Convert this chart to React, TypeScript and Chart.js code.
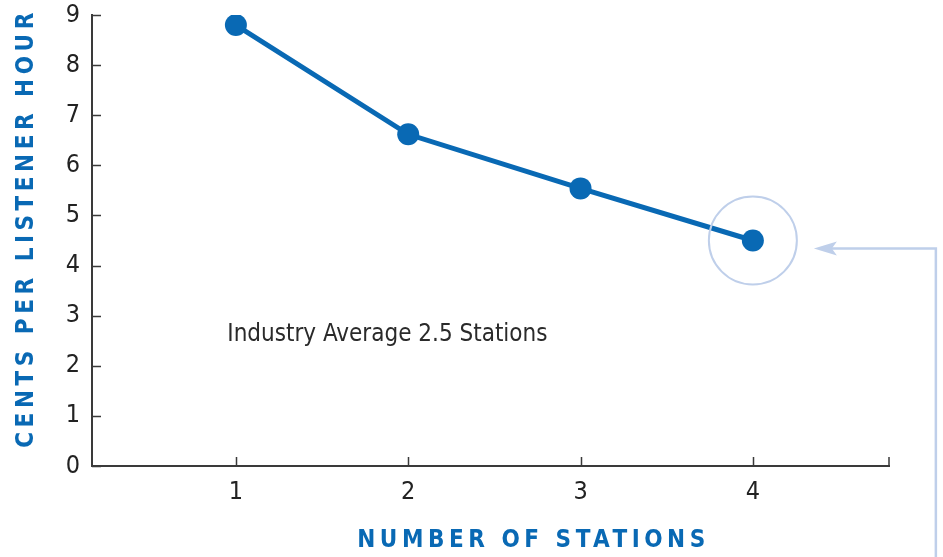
import React, { useEffect, useRef } from "react";
import { Chart, registerables } from "chart.js";

Chart.register(...registerables);

const stations = [1, 2, 3, 4];
const centsPerHour = [8.8, 6.62, 5.54, 4.5];
const yTickValues = [0, 1, 2, 3, 4, 5, 6, 7, 8, 9];
const xTickValues = [1, 2, 3, 4];
const xTitle = "NUMBER OF STATIONS";
const yTitle = "CENTS PER LISTENER HOUR";
const noteText = "Industry Average 2.5 Stations";
const noteAt = { x: 0.95, y: 2.62 };
const highlightIndex = 3;

const FONT = "'Liberation Sans Narrow', 'DejaVu Sans Condensed', 'Roboto Condensed', Roboto, sans-serif";
const BLUE = "#0969b4";
const AXIS = "#3a3a3a";
const PALE = "#bfcfea";

function spacedText(ctx: any, text: string, x: number, y: number, width: number) {
  ctx.letterSpacing = "0px";
  const w = ctx.measureText(text).width;
  const sp = (width - w) / (text.length - 1);
  ctx.letterSpacing = `${sp}px`;
  ctx.fillText(text, x + sp / 2, y);
  ctx.letterSpacing = "0px";
}

const decorPlugin = {
  id: "decor",
  afterDraw(chart: any) {
    const { ctx, chartArea, scales } = chart;
    const xs = scales.x;
    const ys = scales.y;
    ctx.save();
    // inward ticks
    ctx.strokeStyle = AXIS;
    ctx.lineWidth = 1.5;
    ctx.beginPath();
    yTickValues.forEach((v) => {
      const py = Math.round(ys.getPixelForValue(v)) + 0.5;
      ctx.moveTo(chartArea.left, py);
      ctx.lineTo(chartArea.left + 9, py);
    });
    xTickValues.forEach((v) => {
      const px = Math.round(xs.getPixelForValue(v)) + 0.5;
      ctx.moveTo(px, chartArea.bottom);
      ctx.lineTo(px, chartArea.bottom - 9);
    });
    ctx.moveTo(chartArea.right, chartArea.bottom);
    ctx.lineTo(chartArea.right, chartArea.bottom - 9);
    ctx.stroke();

    // note
    ctx.fillStyle = "#2a2a2a";
    ctx.font = `24px ${FONT}`;
    ctx.textAlign = "left";
    ctx.textBaseline = "middle";
    ctx.fillText(noteText, xs.getPixelForValue(noteAt.x), ys.getPixelForValue(noteAt.y));

    // highlight circle
    const cx = xs.getPixelForValue(stations[highlightIndex]);
    const cy = ys.getPixelForValue(centsPerHour[highlightIndex]);
    ctx.strokeStyle = PALE;
    ctx.lineWidth = 2;
    ctx.beginPath();
    ctx.arc(cx, cy, 44, 0, Math.PI * 2);
    ctx.stroke();

    // arrow
    const tipX = cx + 61;
    const ay = cy + 8;
    const vx = cx + 183;
    ctx.lineWidth = 2.5;
    ctx.beginPath();
    ctx.moveTo(vx, chart.height + 5);
    ctx.lineTo(vx, ay);
    ctx.lineTo(tipX + 14, ay);
    ctx.stroke();
    ctx.fillStyle = PALE;
    ctx.beginPath();
    ctx.moveTo(tipX, ay);
    ctx.lineTo(tipX + 23, ay - 7);
    ctx.lineTo(tipX + 18, ay);
    ctx.lineTo(tipX + 23, ay + 7);
    ctx.closePath();
    ctx.fill();

    // titles
    ctx.fillStyle = BLUE;
    ctx.font = `bold 24px ${FONT}`;
    ctx.textAlign = "left";
    ctx.textBaseline = "middle";
    spacedText(ctx, xTitle, 355, 541, 348);
    ctx.translate(27, 450);
    ctx.rotate(-Math.PI / 2);
    spacedText(ctx, yTitle, 0, 0, 435);
    ctx.restore();
  },
};

export default function App() {
  const ref = useRef<HTMLCanvasElement>(null);
  useEffect(() => {
    document.body.style.margin = "0";
    const chart = new Chart(ref.current!, {
      type: "line",
      data: {
        datasets: [
          {
            data: stations.map((s, i) => ({ x: s, y: centsPerHour[i] })),
            borderColor: BLUE,
            backgroundColor: BLUE,
            borderWidth: 5,
            pointRadius: 11,
            pointHoverRadius: 11,
            pointBorderWidth: 0,
            tension: 0,
          },
        ],
      },
      options: {
        animation: false,
        responsive: true,
        maintainAspectRatio: false,
        layout: { padding: { top: 15, right: 54, left: 0, bottom: 0 } },
        plugins: { legend: { display: false }, tooltip: { enabled: false } },
        scales: {
          x: {
            type: "linear",
            min: 0.165,
            max: 4.79,
            grid: { display: false, drawTicks: false },
            border: { display: true, color: AXIS, width: 2 },
            afterBuildTicks: (s: any) => {
              s.ticks = xTickValues.map((v) => ({ value: v }));
            },
            ticks: {
              color: "#222",
              font: { family: FONT, size: 25 },
              padding: 11,
              callback: (v: any) => String(v),
            },
            afterFit: (s: any) => {
              s.height = 91;
              s.paddingLeft = 0;
              s.paddingRight = 0;
            },
          },
          y: {
            min: 0,
            max: 9,
            grid: { display: false, drawTicks: false },
            border: { display: true, color: AXIS, width: 2 },
            afterBuildTicks: (s: any) => {
              s.ticks = yTickValues.map((v) => ({ value: v }));
            },
            ticks: {
              color: "#222",
              font: { family: FONT, size: 25 },
              padding: 12,
            },
            afterFit: (s: any) => {
              s.width = 92;
              s.paddingTop = 0;
              s.paddingBottom = 0;
            },
          },
        },
      },
      plugins: [decorPlugin],
    });
    return () => chart.destroy();
  }, []);
  return (
    <div style={{ width: 943, height: 557, position: "relative" }}>
      <canvas ref={ref} />
    </div>
  );
}
